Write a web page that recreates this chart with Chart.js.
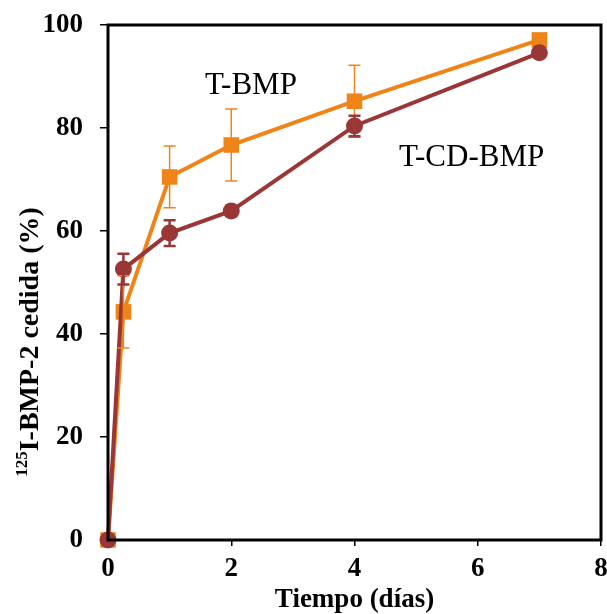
<!DOCTYPE html>
<html><head><meta charset="utf-8">
<script src="https://cdn.jsdelivr.net/npm/chart.js@4/dist/chart.umd.min.js"></script>
<style>html,body{margin:0;padding:0;background:#fff;overflow:hidden}#wrap{position:relative;width:607px;height:614px}</style>
</head><body><div id="wrap"><canvas id="c"></canvas></div>
<script>
const days = [0, 0.25, 1, 2, 4, 7];
const tbmp = [0, 44.3, 70.5, 76.7, 85.2, 97.1];
const tbmpErr = [0, 7, 6, 7, 7, 0];
const tcdbmp = [0, 52.6, 59.6, 63.9, 80.4, 94.6];
const tcdbmpErr = [0, 3, 2.5, 1, 2, 0];
const xTicks = [0, 2, 4, 6, 8];
const yTicks = [0, 20, 40, 60, 80, 100];
const labels = [{text:'T-BMP', x:2.32, y:88.2}, {text:'T-CD-BMP', x:5.9, y:74.2}];
const yTitleSup = '125';
const yTitleMain = 'I-BMP-2 cedida (%)';

const ORANGE = '#EF8519', RED = '#9A3636';
const FONT = '"Liberation Serif","Times New Roman",serif';

const errPlugin = {
  id:'err',
  afterDatasetsDraw(chart){
    const {ctx, scales:{x,y}} = chart;
    const sets = [[tbmp,tbmpErr,ORANGE,1.5],[tcdbmp,tcdbmpErr,RED,2.5]];
    ctx.save();
    sets.forEach(([v,e,c,w])=>{
      ctx.strokeStyle=c; ctx.lineWidth=w;
      days.forEach((d,i)=>{
        if(!e[i]) return;
        const px=x.getPixelForValue(d), t=y.getPixelForValue(v[i]+e[i]), b=y.getPixelForValue(v[i]-e[i]);
        ctx.beginPath(); ctx.moveTo(px,t); ctx.lineTo(px,b);
        ctx.moveTo(px-6,t); ctx.lineTo(px+6,t);
        ctx.moveTo(px-6,b); ctx.lineTo(px+6,b); ctx.stroke();
      });
    });
    ctx.restore();
  },
  afterDraw(chart){
    const {ctx, chartArea:a, scales:{x,y}} = chart;
    ctx.save();
    ctx.strokeStyle='#000'; ctx.lineWidth=3;
    ctx.strokeRect(a.left,a.top,a.right-a.left,a.bottom-a.top);
    ctx.fillStyle='#000'; ctx.font='31px '+FONT; ctx.textAlign='center'; ctx.textBaseline='middle';
    labels.forEach(l=>ctx.fillText(l.text, x.getPixelForValue(l.x), y.getPixelForValue(l.y)));
    ctx.translate(29, 342); ctx.rotate(-Math.PI/2);
    const supFont='bold 17px '+FONT, mainFont='bold 28px '+FONT;
    ctx.font=supFont; const ws=ctx.measureText(yTitleSup).width;
    ctx.font=mainFont; const wm=ctx.measureText(yTitleMain).width;
    const start=-(ws+wm)/2;
    ctx.textAlign='left'; ctx.textBaseline='alphabetic';
    ctx.font=supFont; ctx.fillText(yTitleSup, start, -2);
    ctx.font=mainFont; ctx.fillText(yTitleMain, start+ws, 9);
    ctx.restore();
  }
};

new Chart(document.getElementById('c'), {
  type:'line',
  data:{datasets:[
    {label:'T-BMP', data:days.map((d,i)=>({x:d,y:tbmp[i]})), borderColor:ORANGE, backgroundColor:ORANGE,
     borderWidth:4, pointStyle:'rect', pointRadius:11, pointHoverRadius:11, pointBorderWidth:0, order:1, clip:false},
    {label:'T-CD-BMP', data:days.map((d,i)=>({x:d,y:tcdbmp[i]})), borderColor:RED, backgroundColor:RED,
     borderWidth:4, pointStyle:'circle', pointRadius:8.5, pointHoverRadius:8.5, pointBorderWidth:0, order:0, clip:false}
  ]},
  options:{
    responsive:true, maintainAspectRatio:false, animation:false,
    layout:{autoPadding:false, padding:{top:25,right:6,left:0,bottom:0}},
    plugins:{legend:{display:false}, tooltip:{enabled:false}},
    scales:{
      x:{type:'linear', min:0, max:8,
        afterBuildTicks(s){s.ticks=xTicks.map(v=>({value:v}));},
        afterFit(s){s.height=74; s.paddingRight=0; s.paddingLeft=0;},
        grid:{drawOnChartArea:false, drawTicks:true, tickLength:6, color:'#000', lineWidth:1.5},
        border:{display:false},
        ticks:{color:'#000', font:{family:FONT, size:27, weight:'bold'}, padding:7, maxRotation:0},
        title:{display:true, text:'Tiempo (días)', color:'#000', font:{family:FONT, size:27, weight:'bold'}, padding:{top:0,bottom:-2}}
      },
      y:{min:0, max:100,
        afterBuildTicks(s){s.ticks=yTicks.map(v=>({value:v}));},
        afterFit(s){s.width=108; s.paddingTop=0; s.paddingBottom=0;},
        grid:{drawOnChartArea:false, drawTicks:true, tickLength:8, color:'#000', lineWidth:1.5},
        border:{display:false},
        ticks:{color:'#000', font:{family:FONT, size:27, weight:'bold'}, padding:17},
        title:{display:false}
      }
    }
  },
  plugins:[errPlugin]
});
</script></body></html>
